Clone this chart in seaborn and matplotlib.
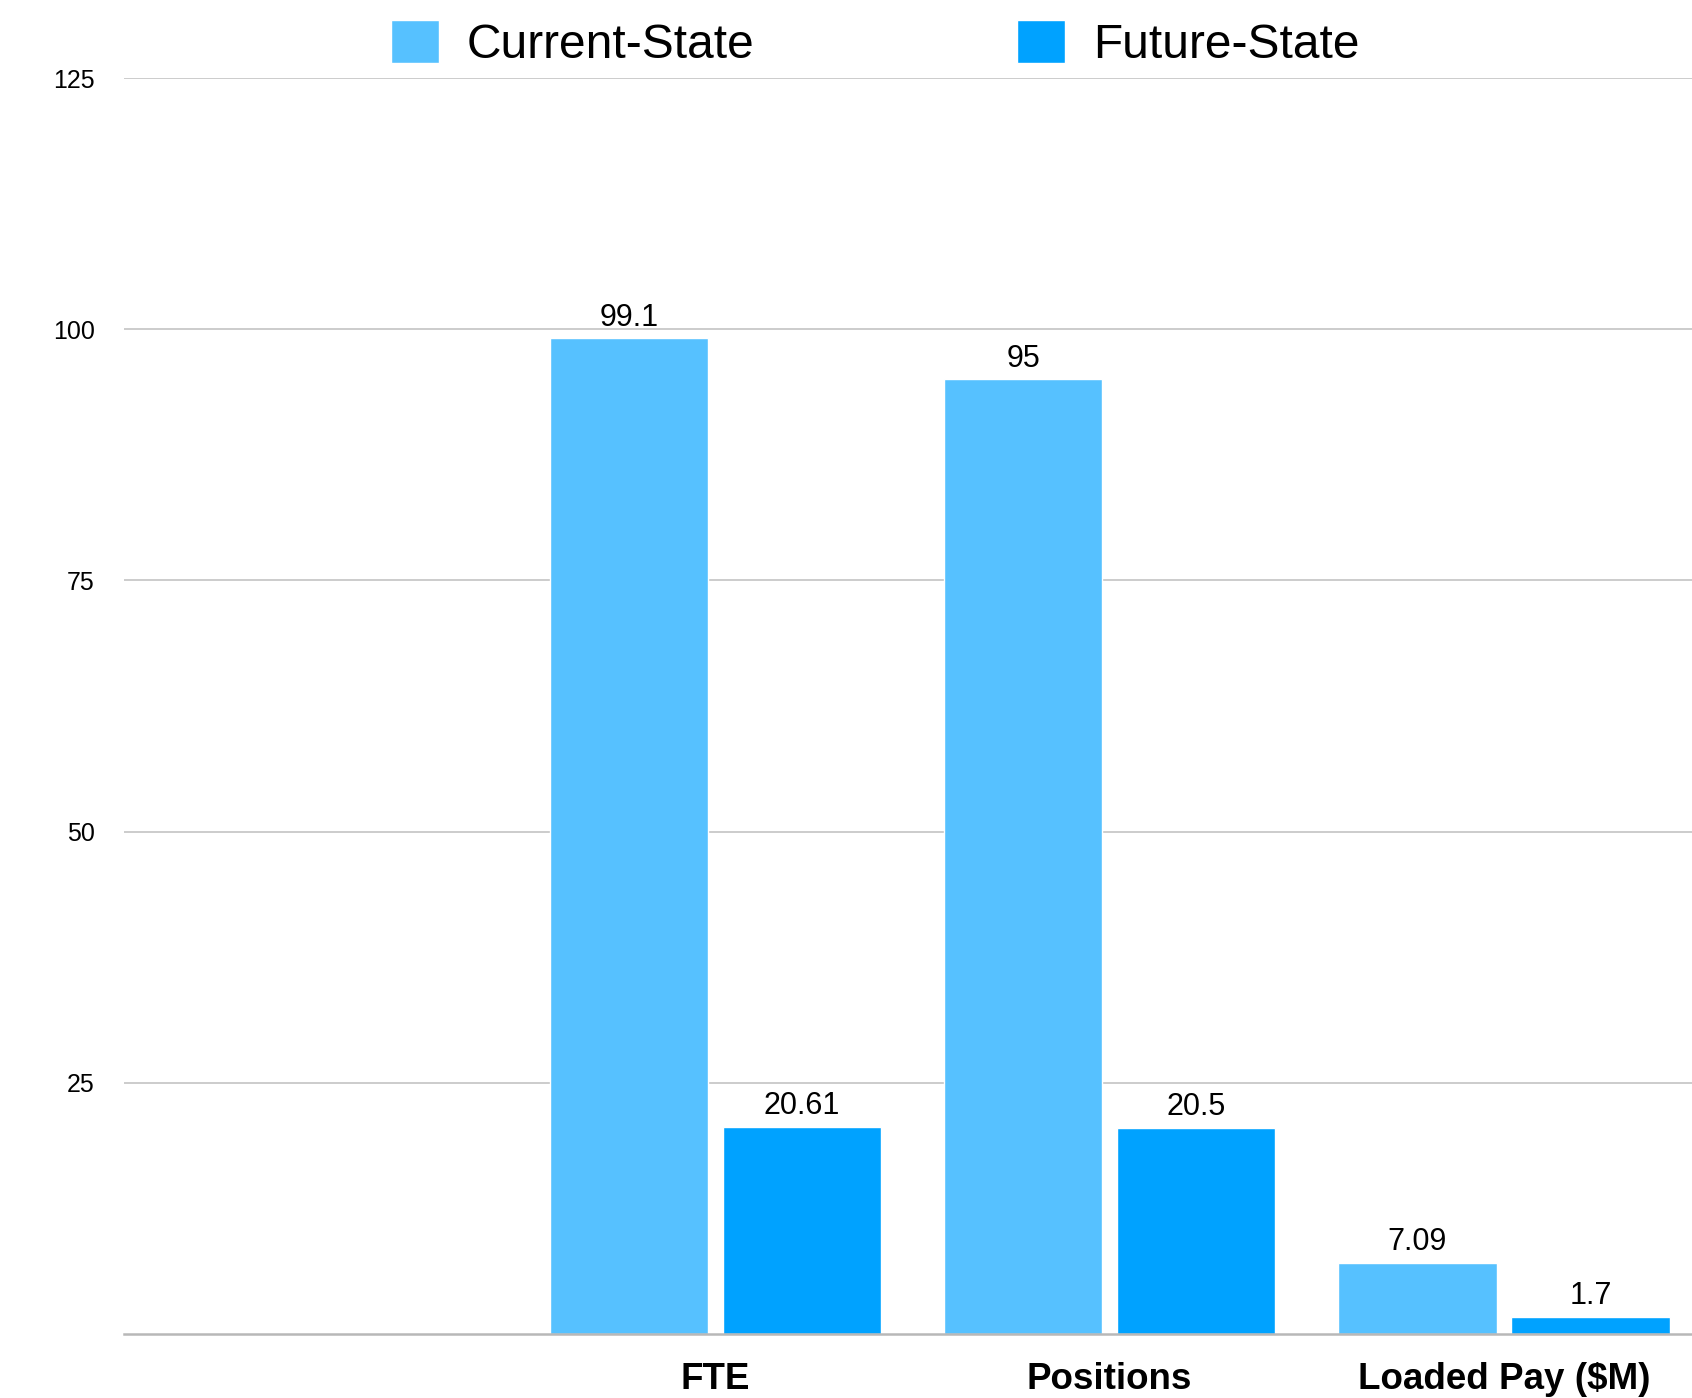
import matplotlib
matplotlib.use("Agg")
import matplotlib.pyplot as plt
import seaborn as sns
import pandas as pd

# ---- data ----
categories = ["FTE", "Positions", "Loaded Pay ($M)"]
current_state = [99.1, 95, 7.09]
future_state = [20.61, 20.5, 1.7]
series_names = ["Current-State", "Future-State"]
series_colors = ["#56C1FF", "#00A2FF"]
y_ticks = [25, 50, 75, 100, 125]

df = pd.DataFrame({
    "category": categories * 2,
    "value": current_state + future_state,
    "series": [series_names[0]] * len(categories) + [series_names[1]] * len(categories),
})
order = [""] + categories  # empty leading slot as in the reference

sns.set_theme(style="white")
plt.rcParams["font.family"] = ["Liberation Sans", "DejaVu Sans"]

W, H = 1692, 1398
fig = plt.figure(figsize=(W / 100, H / 100), dpi=100)
left = 124 / W
bottom = 1 - 1334 / H
top = 1 - 78 / H
ax = fig.add_axes([left, bottom, 1577 / W, top - bottom])

sns.barplot(data=df, x="category", y="value", hue="series", order=order,
            hue_order=series_names, palette=series_colors, saturation=1,
            width=0.878, gap=0.085, ax=ax, legend=True)

ax.set_xlim(-0.5, 3.5)
ax.set_ylim(0, 125)
ax.set_yticks(y_ticks)
ax.set_yticklabels([str(t) for t in y_ticks])
ax.yaxis.grid(True, color="#C8C8C8", linewidth=1.3)
ax.set_axisbelow(True)
for s in ["left", "right", "top"]:
    ax.spines[s].set_visible(False)
ax.spines["bottom"].set_color("#B8B8B8")
ax.spines["bottom"].set_linewidth(1.8)
ax.tick_params(axis="y", length=0, pad=21, labelsize=18, labelcolor="#000000")
ax.tick_params(axis="x", length=0, pad=20, labelsize=26.5, labelcolor="#000000")
for lbl in ax.get_xticklabels():
    lbl.set_fontweight("bold")
ax.set_xlabel("")
ax.set_ylabel("")

for cont in ax.containers:
    ax.bar_label(cont, fmt="%g", padding=4, fontsize=22, color="#000000")

handles, labels = ax.get_legend_handles_labels()
ax.get_legend().remove()
fig.legend(handles, labels, loc="center left",
           bbox_to_anchor=(391 / W, 1 - 44 / H), ncol=2, frameon=False,
           fontsize=34.5, labelcolor="#000000", handlelength=1.0, handleheight=1.0,
           handletextpad=0.58, columnspacing=5.48, borderpad=0, borderaxespad=0)

fig.savefig("out.png", dpi=100)
